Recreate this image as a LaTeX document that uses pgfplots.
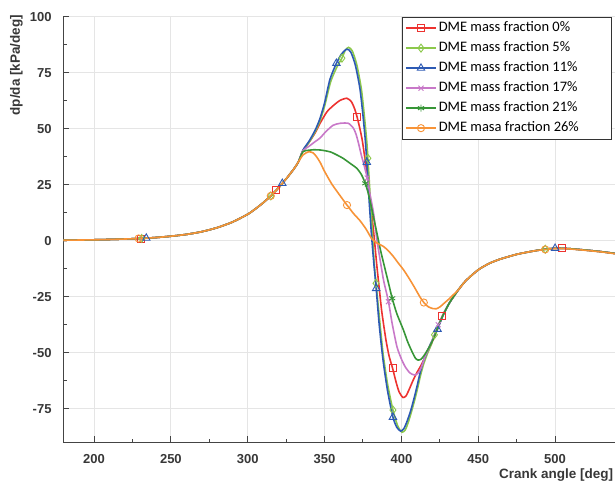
\documentclass[border=0pt]{standalone}
\usepackage{fontspec}
\setmainfont{Liberation Sans}
\newfontfamily\legfont{Carlito}
\usepackage{pgfplots}
\usepackage{pgfplotstable}
\pgfplotsset{compat=1.18}

\definecolor{c0}{RGB}{237,50,47}
\definecolor{c1}{RGB}{140,200,75}
\definecolor{c2}{RGB}{45,90,180}
\definecolor{c3}{RGB}{200,120,200}
\definecolor{c4}{RGB}{55,150,55}
\definecolor{c5}{RGB}{247,147,55}
\definecolor{axc}{RGB}{68,68,68}
\definecolor{txc}{RGB}{55,55,55}

% DME mass fraction 0%
\pgfplotstableread{
x y
180 0.2
190 0.3
200 0.4
210 0.55
220 0.75
230 1.0
240 1.4
250 2.0
260 2.8
270 4.0
280 5.8
290 8.3
300 11.8
305 14.2
310 16.9
315 20.0
320 23.6
325 27.6
330 32.0
333 35.2
336 40.3
340 44
344 48.3
347 52.3
351.5 57.5
356 60.5
360 62.6
364.5 63.6
367.5 62
369.5 59
371.1 55.4
373 50
374.5 45
376 38
377.6 30
379.3 20
381 10
382.5 0
384 -11
385.7 -22
387.3 -32
390 -44.5
392 -51.5
394.3 -57
396.5 -63
398.5 -67.5
401 -70
403 -69.3
405 -66.5
407.5 -62.5
410 -59
412.5 -56
414.5 -53.3
417 -49.8
419.5 -46
423.5 -39.5
426.7 -33.5
431.5 -27.5
437 -22
442 -17.8
450 -13
457 -10.2
464 -8.3
475 -6.1
486 -4.6
493.6 -3.8
500 -3.4
504.5 -3.4
510 -3.6
520 -4.2
530 -4.9
539 -5.7
}\dataA

% DME mass fraction 5%
\pgfplotstableread{
x y
180 0.2
190 0.3
200 0.4
210 0.55
220 0.75
230 1.0
240 1.4
250 2.0
260 2.8
270 4.0
280 5.8
290 8.3
300 11.8
305 14.2
310 16.9
315 20.0
320 23.6
325 27.6
330 32.0
333 35.2
336 40.3
340 44
344 48.8
347 53.5
350 60
354 71
358 77.5
361.3 81.5
363.5 85
365.6 86.3
368 84.8
371 78.5
374 67.5
376 55
377.5 44
378.2 36.8
379.5 22
381 5
382.3 -10
383.5 -19
385.5 -33
388 -50
391 -64
394.5 -75.6
397.5 -82.5
400.3 -85.5
402.5 -84.5
404.5 -81
406.5 -76.5
408.5 -71.5
410.5 -66
412.5 -60
414.5 -55
417 -50.3
419.5 -46.2
421.5 -42
427.3 -33
431.5 -27.5
437 -22
442 -17.8
450 -13
457 -10.2
464 -8.3
475 -6.1
486 -4.6
493.6 -3.8
500 -3.4
504.5 -3.4
510 -3.6
520 -4.2
530 -4.9
539 -5.7
}\dataB

% DME mass fraction 11%
\pgfplotstableread{
x y
180 0.2
190 0.3
200 0.4
210 0.55
220 0.75
230 1.0
240 1.4
250 2.0
260 2.8
270 4.0
280 5.8
290 8.3
300 11.8
305 14.2
310 16.9
315 20.0
320 23.6
325 27.6
330 32.0
333 35.2
336 40.5
340 44.5
344 49.5
347 54.5
350 61.5
353.5 72
357.7 79.2
361 83.3
364.4 85.5
367 84.3
370 78.5
373 68
375 56
376.5 45
377.5 35
379 18
380.5 3
382 -9.5
383.6 -21.3
385.5 -37
388 -53
391 -67
394.5 -78.8
397 -83.3
399.5 -85
401.5 -84
403.5 -81
406 -76
408 -71
410 -65.5
412 -59.5
414 -54.5
416.5 -50
419 -46
423.5 -39.5
427.3 -33
431.5 -27.5
437 -22
442 -17.8
450 -13
457 -10.2
464 -8.3
475 -6.1
486 -4.6
493.6 -3.8
500 -3.4
504.5 -3.4
510 -3.6
520 -4.2
530 -4.9
539 -5.7
}\dataC

% DME mass fraction 17%
\pgfplotstableread{
x y
180 0.2
190 0.3
200 0.4
210 0.55
220 0.75
230 1.0
240 1.4
250 2.0
260 2.8
270 4.0
280 5.8
290 8.3
300 11.8
305 14.2
310 16.9
315 20.0
320 23.6
325 27.6
330 32.0
333 35.2
336 40.2
340 42.2
344 44.3
347 45.8
351 48.8
355.5 51.5
360 52.4
365.5 52.4
368.8 50.2
370.5 47.5
372.1 43.5
374 38
375.4 34.5
377.8 28
379.5 21
381.9 12.2
384.1 0.3
386.5 -10
388.5 -18
391.6 -27.2
394 -37
397.1 -47.3
400 -52.8
402.5 -56.3
405.5 -59
408.6 -60
411 -59
413 -56.5
415.5 -51.5
418.5 -47
421 -43
424 -37.5
427.3 -33
431.5 -27.5
437 -22
442 -17.8
450 -13
457 -10.2
464 -8.3
475 -6.1
486 -4.6
493.6 -3.8
500 -3.4
504.5 -3.4
510 -3.6
520 -4.2
530 -4.9
539 -5.7
}\dataD

% DME mass fraction 21%
\pgfplotstableread{
x y
180 0.2
190 0.3
200 0.4
210 0.55
220 0.75
230 1.0
240 1.4
250 2.0
260 2.8
270 4.0
280 5.8
290 8.3
300 11.8
305 14.2
310 16.9
315 20.0
320 23.6
325 27.6
330 32.0
333 35.2
336 39.8
340 40.4
343 40.6
347 40.5
350 40.2
354 39.6
358 38.3
362 36.8
366.7 34.5
371 32.3
374 29.5
376.5 25.6
378.5 21
380.5 15
382.5 8.5
384.5 2
386.5 -4.5
389.5 -13
392 -20
394 -25.7
397 -32.5
401.4 -40
404 -45
406.9 -49.5
409 -52.3
410.8 -53.3
413 -52.8
415.5 -50.5
418.5 -47
421 -43.5
424 -38
427.3 -33
431.5 -27.5
437 -22
442 -17.8
450 -13
457 -10.2
464 -8.3
475 -6.1
486 -4.6
493.6 -3.8
500 -3.4
504.5 -3.4
510 -3.6
520 -4.2
530 -4.9
539 -5.7
}\dataE

% DME masa fraction 26%
\pgfplotstableread{
x y
180 0.2
190 0.3
200 0.4
210 0.55
220 0.75
230 1.0
240 1.4
250 2.0
260 2.8
270 4.0
280 5.8
290 8.3
300 11.8
305 14.2
310 16.9
315 20.0
320 23.6
325 27.6
330 32.0
333 35.2
336 38.3
339.6 39.7
342.5 39.2
345 37.3
347.5 34.5
349.5 31.6
352 28.5
355 25
360 20.2
364.6 15.9
369 12
373 9
377 5.2
380.8 0.8
384.5 -1.2
388.2 -2.5
391.5 -4.5
394.7 -7
398 -10
401.4 -13
405 -16.8
408.5 -20.8
412 -25
414.6 -27.6
417.5 -29.5
420.5 -30.3
422.6 -30.4
425 -29.6
428 -27.8
431 -26
434 -24
437 -22
442 -17.8
450 -13
457 -10.2
464 -8.3
475 -6.1
486 -4.6
493.6 -3.9
500 -3.5
504.5 -3.5
510 -3.7
520 -4.3
530 -5.0
539 -5.8
}\dataF

\begin{document}
\begin{tikzpicture}
\begin{axis}[
  scale only axis,
  width=551.7pt, height=425.6pt,
  xmin=180, xmax=539, ymin=-90, ymax=100,
  axis x line*=bottom, axis y line*=left,
  x axis line style={-, line width=1.5pt, color=axc},
  y axis line style={-, line width=1.5pt, color=axc},
  xtick={200,250,300,350,400,450,500},
  xticklabels={200,250,300,350,400,450,500},
  ytick={-75,-50,-25,0,25,50,75,100},
  yticklabels={-75,-50,-25,0,25,50,75,100},
  minor x tick num=1, minor y tick num=1,
  tick align=inside,
  major tick length=6pt, minor tick length=3.5pt,
  every tick/.style={color=axc, line width=1pt},
  grid=major,
  major grid style={color=black!10, line width=0.9pt},
  xticklabel style={font=\fontsize{13}{13}\selectfont\bfseries, color=txc, anchor=base, inner sep=0pt, yshift=-21pt},
  yticklabel style={font=\fontsize{13}{13}\selectfont\bfseries, color=txc, anchor=east, inner sep=0pt, xshift=-11.6pt},
  xlabel={Crank angle [deg]},
  ylabel={dp/da [kPa/deg]},
  xlabel style={font=\fontsize{13.5}{13.5}\selectfont\bfseries, color=txc, at={(axis description cs:0.997,-0.0769)}, anchor=east, inner sep=0pt},
  ylabel style={font=\fontsize{13.5}{13.5}\selectfont\bfseries, color=txc, at={(axis description cs:-0.0851,1.0047)}, anchor=east, inner sep=0pt},
  legend image code/.code={\draw[mark repeat=2,mark phase=2,#1] plot coordinates {(0pt,0pt) (15pt,0pt) (30pt,0pt)};},
  legend style={at={(axis description cs:0.995,1)}, anchor=north east, draw=black!80, line width=0.9pt, fill=white,
    font=\legfont\fontsize{14.5}{14.5}\selectfont, row sep=0pt, inner xsep=3pt, inner ysep=1pt,
    nodes={text height=10.5pt, text depth=3.5pt, inner ysep=3pt}},
  legend cell align=left,
]
\coordinate (SW) at (rel axis cs:0,0);
\coordinate (NE) at (rel axis cs:1,1);

\addlegendimage{c0, line width=1.6pt, mark=square, mark size=3.5pt, mark options={solid, line width=0.9pt, fill=none}}
\addlegendimage{c1, line width=1.6pt, mark=diamond, mark size=4pt, mark options={solid, line width=0.9pt, fill=none}}
\addlegendimage{c2, line width=1.6pt, mark=triangle, mark size=4.3pt, mark options={solid, line width=0.9pt, fill=none}}
\addlegendimage{c3, line width=1.6pt, mark=x, mark size=3.5pt, mark options={solid, line width=0.9pt}}
\addlegendimage{c4, line width=1.6pt, mark=asterisk, mark size=3.5pt, mark options={solid, line width=0.9pt}}
\addlegendimage{c5, line width=1.6pt, mark=o, mark size=3.6pt, mark options={solid, line width=0.9pt, fill=none}}

\addplot[c0, line width=1.6pt, smooth, tension=0.4, no markers, forget plot] table {\dataA};
\addplot[c1, line width=1.6pt, smooth, tension=0.4, no markers, forget plot] table {\dataB};
\addplot[c2, line width=1.6pt, smooth, tension=0.4, no markers, forget plot] table {\dataC};
\addplot[c3, line width=1.6pt, smooth, tension=0.4, no markers, forget plot] table {\dataD};
\addplot[c4, line width=1.6pt, smooth, tension=0.4, no markers, forget plot] table {\dataE};
\addplot[c5, line width=1.6pt, smooth, tension=0.4, no markers, forget plot] table {\dataF};

\addplot[c0, only marks, mark=square, mark size=3.5pt, mark options={line width=0.9pt, fill=none}, forget plot]
  coordinates {(230.7,1.0) (318.6,22.6) (371.1,55.4) (394.3,-57) (426.7,-33.5) (504.5,-3.4)};
\addplot[c1, only marks, mark=diamond, mark size=4pt, mark options={line width=0.9pt, fill=none}, forget plot]
  coordinates {(231,1.0) (315,20) (361.3,81.5) (378.2,36.8) (383.5,-19) (394.5,-75.6) (421.5,-42) (493.6,-3.8)};
\addplot[c2, only marks, mark=triangle, mark size=4.3pt, mark options={line width=0.9pt, fill=none}, forget plot]
  coordinates {(234,1.15) (322.5,25.6) (357.7,79.2) (377.5,35) (383.6,-21.3) (394.5,-78.8) (423.5,-39.5) (500,-3.4)};
\addplot[c3, only marks, mark=x, mark size=3.5pt, mark options={line width=0.9pt}, forget plot]
  coordinates {(377.8,28) (391.6,-27.2) (424,-37.5)};
\addplot[c4, only marks, mark=asterisk, mark size=3.5pt, mark options={line width=0.9pt}, forget plot]
  coordinates {(376.5,25.6) (394,-25.7)};
\addplot[c5, only marks, mark=o, mark size=3.6pt, mark options={line width=0.9pt, fill=none}, forget plot]
  coordinates {(229,1.0) (315,20) (364.6,15.9) (414.6,-27.6) (493.6,-3.9)};

\legend{\makebox[168pt][l]{DME mass fraction 0\%},
        \makebox[168pt][l]{DME mass fraction 5\%},
        \makebox[168pt][l]{DME mass fraction 11\%},
        \makebox[168pt][l]{DME mass fraction 17\%},
        \makebox[168pt][l]{DME mass fraction 21\%},
        \makebox[168pt][l]{DME masa fraction 26\%}}
\end{axis}
\pgfresetboundingbox
\path[use as bounding box] ([shift={(-63.3pt,-42.7pt)}]SW) rectangle ([shift={(0pt,16.7pt)}]NE);
\end{tikzpicture}
\end{document}
